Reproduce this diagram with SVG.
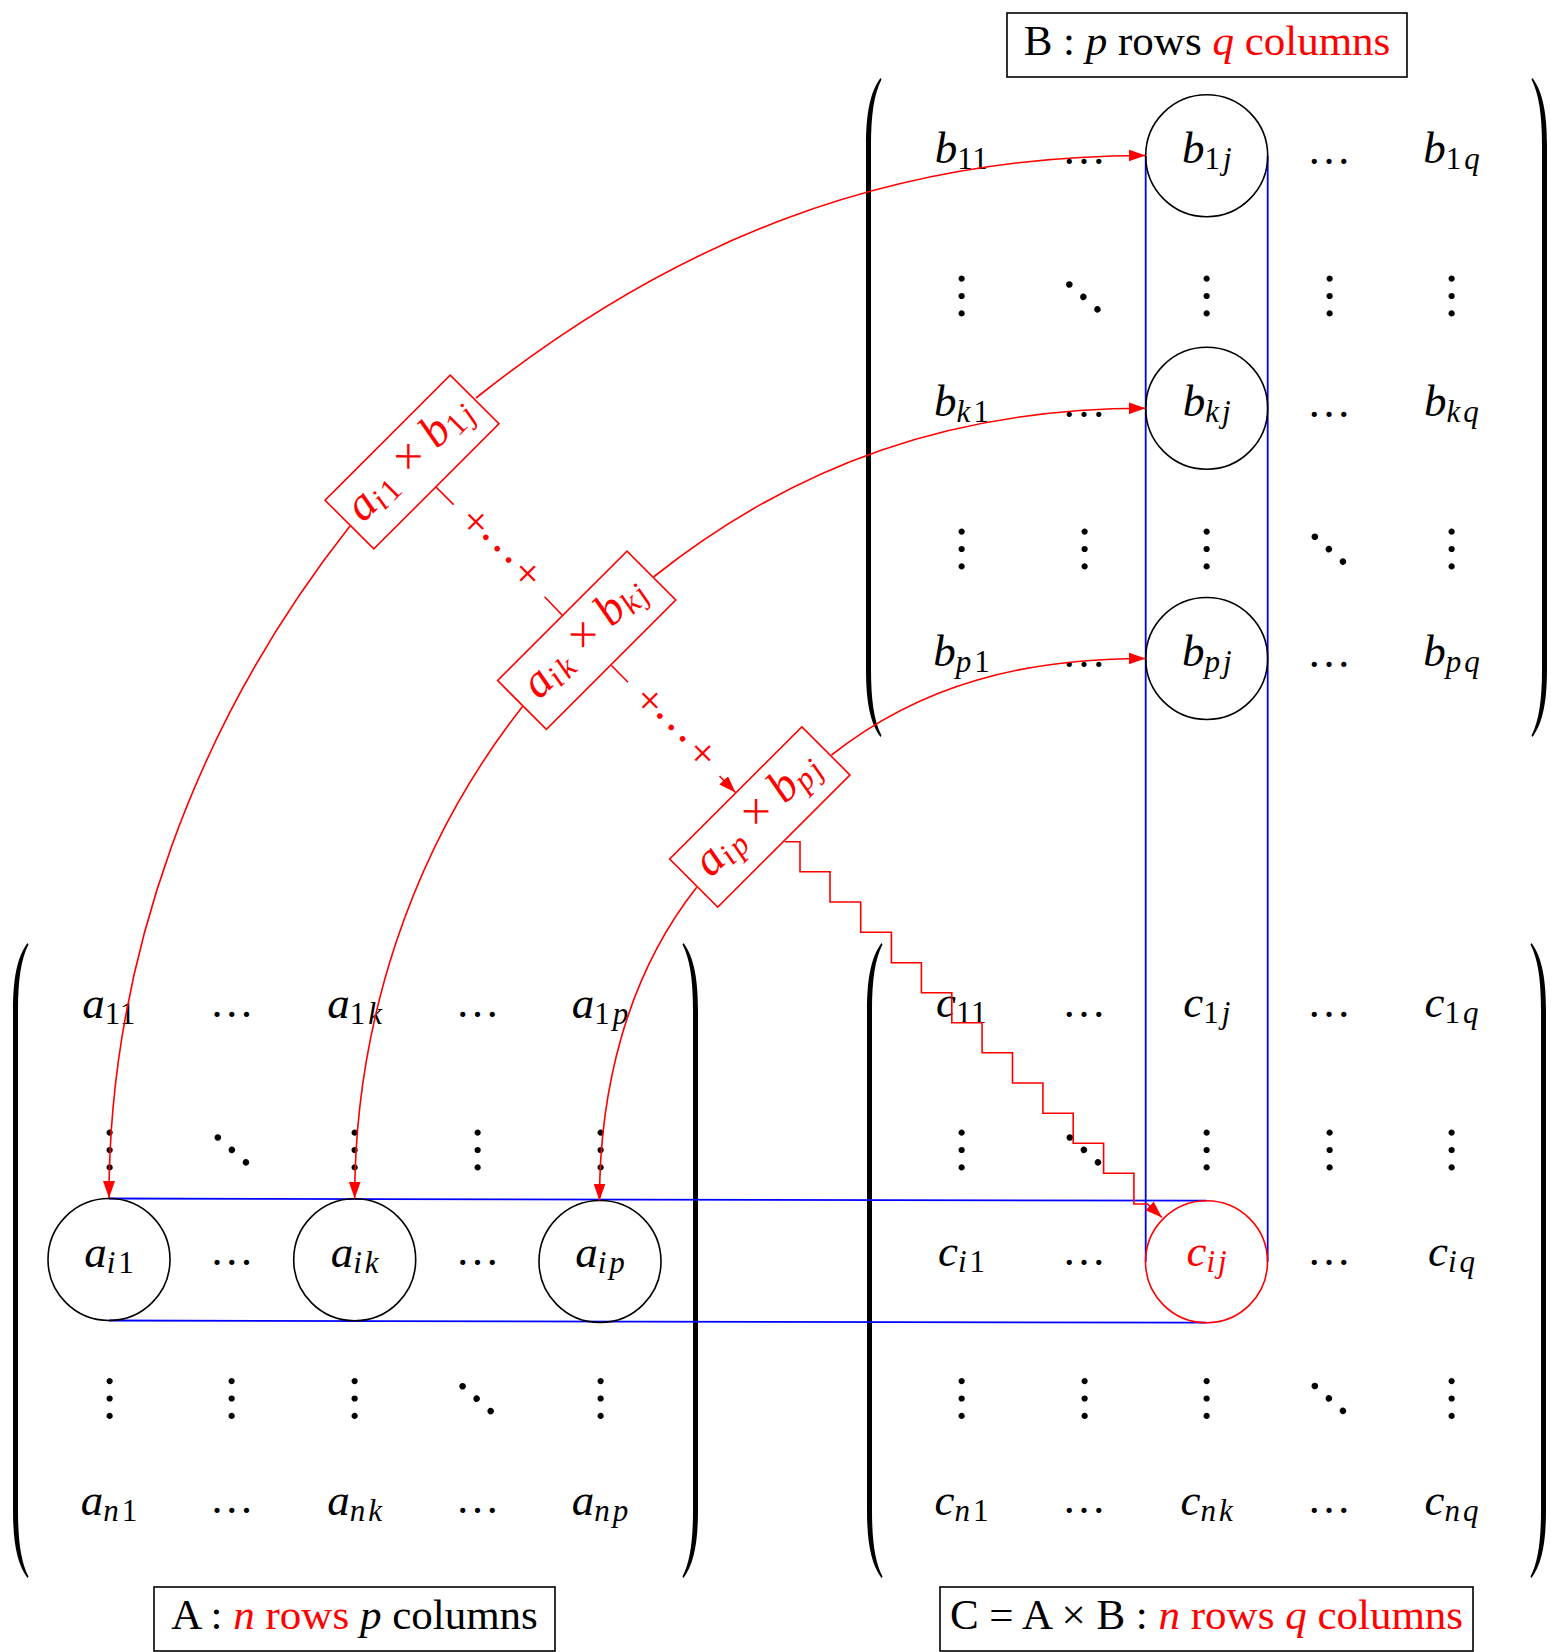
<svg xmlns="http://www.w3.org/2000/svg" width="1551" height="1652" viewBox="0 0 1551 1652">
<defs>
<style>
.t{font-family:"Liberation Serif",serif;font-size:45px;text-anchor:middle;fill:#000}
.r{fill:#ff0000}
.i{font-style:italic}
.s{font-size:31px;letter-spacing:3px}
.n{letter-spacing:0.5px}
.lb{font-family:"Liberation Serif",serif;font-size:43px;text-anchor:middle;fill:#000}
.e{font-family:"Liberation Serif",serif;font-size:44px;text-anchor:middle;fill:#000}
.v{font-family:"Liberation Serif",serif;font-size:52px;text-anchor:middle;fill:#000}
.dd{font-family:"Liberation Serif",serif;font-size:56px;text-anchor:middle;fill:#000}
.pr{fill:#000;stroke:none}
.cir{fill:none;stroke:#000;stroke-width:1.6}
.blue{fill:none;stroke:#0000ff;stroke-width:1.8}
.red{fill:none;stroke:#ff0000;stroke-width:1.6}
.box{fill:#fff;stroke:#ff0000;stroke-width:1.6}
.lbox{fill:none;stroke:#000;stroke-width:1.6}
.pt{font-family:"Liberation Serif",serif;font-size:47px;text-anchor:middle;fill:#ff0000}
.ps{font-size:32px;letter-spacing:3px}
.pl{font-family:"Liberation Serif",serif;font-size:44px;text-anchor:middle;fill:#ff0000}
.pd{font-family:"Liberation Serif",serif;font-size:48px;text-anchor:middle;fill:#ff0000}
</style>
<marker id="ah" markerUnits="userSpaceOnUse" viewBox="0 0 17 12" refX="17" refY="6" markerWidth="17" markerHeight="12" orient="auto">
<path d="M0,0 L17,6 L0,12 Z" fill="#ff0000"/>
</marker>
</defs>
<rect width="1551" height="1652" fill="#fff"/>

<!-- parentheses -->
<g id="parens">
<path class="pr" d="M880.5,78 C870,92 866,114 866,146 L866,669 C866,701 870,723 880.5,737 L881.5,735.5 C874,721 871,700 871,669 L871,146 C871,115 874,94 881.5,79.5 Z"/>
<path class="pr" d="M1532.5,78 C1543,92 1547,114 1547,146 L1547,669 C1547,701 1543,723 1532.5,737 L1531.5,735.5 C1539,721 1542,700 1542,669 L1542,146 C1542,115 1539,94 1531.5,79.5 Z"/>
<path class="pr" d="M27.5,943 C17,957 13,979 13,1011 L13,1510 C13,1542 17,1564 27.5,1578 L28.5,1576.5 C21,1562 18,1541 18,1510 L18,1011 C18,980 21,959 28.5,944.5 Z"/>
<path class="pr" d="M683.5,943 C694,957 698,979 698,1011 L698,1510 C698,1542 694,1564 683.5,1578 L682.5,1576.5 C690,1562 693,1541 693,1510 L693,1011 C693,980 690,959 682.5,944.5 Z"/>
<path class="pr" d="M881.5,943 C871,957 867,979 867,1011 L867,1510 C867,1542 871,1564 881.5,1578 L882.5,1576.5 C875,1562 872,1541 872,1510 L872,1011 C872,980 875,959 882.5,944.5 Z"/>
<path class="pr" d="M1531.5,943 C1542,957 1546,979 1546,1011 L1546,1510 C1546,1542 1542,1564 1531.5,1578 L1530.5,1576.5 C1538,1562 1541,1541 1541,1510 L1541,1011 C1541,980 1538,959 1530.5,944.5 Z"/>
</g>

<!-- blue highlight lines -->
<g id="highlight">
<line class="blue" x1="1145.7" y1="155.8" x2="1145.7" y2="1261.7"/>
<line class="blue" x1="1267.7" y1="155.8" x2="1267.7" y2="1261.7"/>
<line class="blue" x1="109" y1="1198.5" x2="1206.5" y2="1200.7"/>
<line class="blue" x1="109" y1="1320.5" x2="1206.5" y2="1322.7"/>
</g>

<!-- matrix B -->
<g id="matrixB">
<text class="t" x="961.5" y="163"><tspan class="i">b</tspan><tspan class="s n" dy="6">11</tspan></text>
<text class="e" x="1084" y="164">…</text>
<text class="e" x="1329" y="164">…</text>
<text class="t" x="1453" y="163"><tspan class="i">b</tspan><tspan class="s" dy="6">1<tspan class="i">q</tspan></tspan></text>
<text class="v" transform="translate(961.5,296) rotate(90)" y="2.3">…</text>
<text class="dd" transform="translate(1083.5,297) rotate(41.5)" y="2.5">…</text>
<text class="v" transform="translate(1206.7,296) rotate(90)" y="2.3">…</text>
<text class="v" transform="translate(1329,296) rotate(90)" y="2.3">…</text>
<text class="v" transform="translate(1451.5,296) rotate(90)" y="2.3">…</text>
<text class="t" x="963" y="415.5"><tspan class="i">b</tspan><tspan class="s" dy="6"><tspan class="i">k</tspan>1</tspan></text>
<text class="e" x="1084" y="416.5">…</text>
<text class="e" x="1329" y="416.5">…</text>
<text class="t" x="1453" y="415.5"><tspan class="i">b</tspan><tspan class="s i" dy="6">kq</tspan></text>
<text class="v" transform="translate(961.5,549) rotate(90)" y="2.3">…</text>
<text class="v" transform="translate(1084,549) rotate(90)" y="2.3">…</text>
<text class="v" transform="translate(1206.7,549) rotate(90)" y="2.3">…</text>
<text class="dd" transform="translate(1329,549.3) rotate(41.5)" y="2.5">…</text>
<text class="v" transform="translate(1451.5,549) rotate(90)" y="2.3">…</text>
<text class="t" x="963" y="666"><tspan class="i">b</tspan><tspan class="s" dy="6"><tspan class="i">p</tspan>1</tspan></text>
<text class="e" x="1084" y="667">…</text>
<text class="e" x="1329" y="667">…</text>
<text class="t" x="1453" y="666"><tspan class="i">b</tspan><tspan class="s i" dy="6">pq</tspan></text>
</g>
<g id="b1j"><circle class="cir" cx="1206.7" cy="155.8" r="61"/><text class="t" x="1208.2" y="163"><tspan class="i">b</tspan><tspan class="s" dy="6">1<tspan class="i">j</tspan></tspan></text></g>
<g id="bkj"><circle class="cir" cx="1206.7" cy="408.3" r="61"/><text class="t" x="1208.2" y="415.5"><tspan class="i">b</tspan><tspan class="s i" dy="6">kj</tspan></text></g>
<g id="bpj"><circle class="cir" cx="1206.7" cy="658.5" r="61"/><text class="t" x="1208.2" y="666"><tspan class="i">b</tspan><tspan class="s i" dy="6">pj</tspan></text></g>

<!-- matrix A -->
<g id="matrixA">
<text class="t" x="109" y="1018"><tspan class="i">a</tspan><tspan class="s n" dy="6">11</tspan></text>
<text class="e" x="231.8" y="1017">…</text>
<text class="t" x="356.2" y="1018"><tspan class="i">a</tspan><tspan class="s" dy="6">1<tspan class="i">k</tspan></tspan></text>
<text class="e" x="477.5" y="1017">…</text>
<text class="t" x="601.5" y="1018"><tspan class="i">a</tspan><tspan class="s" dy="6">1<tspan class="i">p</tspan></tspan></text>
<text class="v" transform="translate(109,1150) rotate(90)" y="2.3">…</text>
<text class="dd" transform="translate(231.9,1150) rotate(41.5)" y="2.5">…</text>
<text class="v" transform="translate(354.7,1150) rotate(90)" y="2.3">…</text>
<text class="v" transform="translate(477.5,1150) rotate(90)" y="2.3">…</text>
<text class="v" transform="translate(600,1150) rotate(90)" y="2.3">…</text>
<text class="e" x="231.8" y="1265">…</text>
<text class="e" x="477.5" y="1265">…</text>
<text class="v" transform="translate(109,1398.5) rotate(90)" y="2.3">…</text>
<text class="v" transform="translate(231.8,1398.5) rotate(90)" y="2.3">…</text>
<text class="v" transform="translate(354.7,1398.5) rotate(90)" y="2.3">…</text>
<text class="dd" transform="translate(476.6,1398.7) rotate(41.5)" y="2.5">…</text>
<text class="v" transform="translate(600,1398.5) rotate(90)" y="2.3">…</text>
<text class="t" x="110.5" y="1515"><tspan class="i">a</tspan><tspan class="s" dy="6"><tspan class="i">n</tspan>1</tspan></text>
<text class="e" x="231.8" y="1512.5">…</text>
<text class="t" x="356.2" y="1515"><tspan class="i">a</tspan><tspan class="s i" dy="6">nk</tspan></text>
<text class="e" x="477.5" y="1512.5">…</text>
<text class="t" x="601.5" y="1515"><tspan class="i">a</tspan><tspan class="s i" dy="6">np</tspan></text>
</g>
<g id="ai1"><circle class="cir" cx="109" cy="1259.5" r="61"/><text class="t" x="110.5" y="1267"><tspan class="i">a</tspan><tspan class="s" dy="6"><tspan class="i">i</tspan>1</tspan></text></g>
<g id="aik"><circle class="cir" cx="354.7" cy="1259.7" r="61"/><text class="t" x="356.2" y="1267"><tspan class="i">a</tspan><tspan class="s i" dy="6">ik</tspan></text></g>
<g id="aip"><circle class="cir" cx="600" cy="1261.5" r="61"/><text class="t" x="601.5" y="1267"><tspan class="i">a</tspan><tspan class="s i" dy="6">ip</tspan></text></g>

<!-- matrix C -->
<g id="matrixC">
<text class="t" x="961.5" y="1017"><tspan class="i">c</tspan><tspan class="s n" dy="6">11</tspan></text>
<text class="e" x="1084" y="1017">…</text>
<text class="t" x="1208.2" y="1017"><tspan class="i">c</tspan><tspan class="s" dy="6">1<tspan class="i">j</tspan></tspan></text>
<text class="e" x="1329" y="1017">…</text>
<text class="t" x="1453" y="1017"><tspan class="i">c</tspan><tspan class="s" dy="6">1<tspan class="i">q</tspan></tspan></text>
<text class="v" transform="translate(961.5,1150) rotate(90)" y="2.3">…</text>
<text class="dd" transform="translate(1084,1150) rotate(41.5)" y="2.5">…</text>
<text class="v" transform="translate(1206.7,1150) rotate(90)" y="2.3">…</text>
<text class="v" transform="translate(1329,1150) rotate(90)" y="2.3">…</text>
<text class="v" transform="translate(1451.5,1150) rotate(90)" y="2.3">…</text>
<text class="t" x="963" y="1266"><tspan class="i">c</tspan><tspan class="s" dy="6"><tspan class="i">i</tspan>1</tspan></text>
<text class="e" x="1084" y="1265">…</text>
<text class="e" x="1329" y="1265">…</text>
<text class="t" x="1453" y="1266"><tspan class="i">c</tspan><tspan class="s i" dy="6">iq</tspan></text>
<text class="v" transform="translate(961.5,1398.5) rotate(90)" y="2.3">…</text>
<text class="v" transform="translate(1084,1398.5) rotate(90)" y="2.3">…</text>
<text class="v" transform="translate(1206.7,1398.5) rotate(90)" y="2.3">…</text>
<text class="dd" transform="translate(1329,1398.5) rotate(41.5)" y="2.5">…</text>
<text class="v" transform="translate(1451.5,1398.5) rotate(90)" y="2.3">…</text>
<text class="t" x="963" y="1515"><tspan class="i">c</tspan><tspan class="s" dy="6"><tspan class="i">n</tspan>1</tspan></text>
<text class="e" x="1084" y="1512.5">…</text>
<text class="t" x="1208.2" y="1515"><tspan class="i">c</tspan><tspan class="s i" dy="6">nk</tspan></text>
<text class="e" x="1329" y="1512.5">…</text>
<text class="t" x="1453" y="1515"><tspan class="i">c</tspan><tspan class="s i" dy="6">nq</tspan></text>
</g>
<g id="cij"><circle cx="1206.5" cy="1261.7" r="61" fill="none" stroke="#ff0000" stroke-width="1.6"/><text class="t r" x="1208" y="1266"><tspan class="i">c</tspan><tspan class="s i" dy="6">ij</tspan></text></g>

<!-- connectors -->
<g id="connectors">
<path class="red" marker-end="url(#ah)" d="M476,398 C672.1,242 884.9,155.5 1145.5,155.5"/>
<path class="red" marker-end="url(#ah)" d="M653.5,577 C796.8,463 955.1,408.3 1145.5,408.3"/>
<path class="red" marker-end="url(#ah)" d="M831.5,755 C922,683.5 1025,658.5 1145.5,658.5"/>
<path class="red" marker-end="url(#ah)" d="M350,526 C194.6,723 109,962 109,1198"/>
<path class="red" marker-end="url(#ah)" d="M523,706 C409.7,849.7 354.7,1026.4 354.7,1198.5"/>
<path class="red" marker-end="url(#ah)" d="M696.7,887.3 C625.2,978 599.5,1092.5 599.5,1200.5"/>
<path class="red" d="M435.7,486.8 L453.6,504.6 M544.6,596.8 L562.3,615.3"/>
<g transform="translate(499.1,550.2) rotate(45)"><text y="11"><tspan class="pl" x="-36.6">+</tspan><tspan class="pd" x="-2.5" y="2.4">…</tspan><tspan class="pl" x="36.6" y="11">+</tspan></text></g>
<path class="red" d="M611.5,665.5 L628,682.2"/>
<path class="red" marker-end="url(#ah)" d="M719.5,776 L735.5,792.5"/>
<g transform="translate(673.6,729.4) rotate(45)"><text y="11"><tspan class="pl" x="-37.3">+</tspan><tspan class="pd" x="-3" y="2.4">…</tspan><tspan class="pl" x="37.3" y="11">+</tspan></text></g>
<path class="red" marker-end="url(#ah)" d="M785,841.7 H800 V871.7 H830 V902 H860.7 V932.3 H891.4 V962.7 H921.4 V992.7 H951.8 V1022.7 H982.1 V1052.7 H1012.5 V1083 H1042.9 V1113.3 H1073.2 V1143.3 H1103.6 V1173.3 H1133.9 V1204 H1147.5 L1162,1217.5"/>
</g>

<!-- product nodes -->
<g id="p1" transform="translate(412,462) rotate(-45)"><rect class="box" x="-88.5" y="-34.5" width="177" height="69"/><text class="pt" x="1.5" y="9"><tspan class="i">a</tspan><tspan class="ps" dy="6"><tspan class="i">i</tspan>1</tspan><tspan dy="-6"> × </tspan><tspan class="i">b</tspan><tspan class="ps" dy="6">1<tspan class="i">j</tspan></tspan></text></g>
<g id="p2" transform="translate(586.7,640.3) rotate(-45)"><rect class="box" x="-91.5" y="-34.5" width="183" height="69"/><text class="pt" x="1.5" y="9"><tspan class="i">a</tspan><tspan class="ps i" dy="6">ik</tspan><tspan dy="-6"> × </tspan><tspan class="i">b</tspan><tspan class="ps i" dy="6">kj</tspan></text></g>
<g id="p3" transform="translate(759.8,817) rotate(-45)"><rect class="box" x="-93.5" y="-34" width="187" height="68"/><text class="pt" x="1.5" y="9"><tspan class="i">a</tspan><tspan class="ps i" dy="6">ip</tspan><tspan dy="-6"> × </tspan><tspan class="i">b</tspan><tspan class="ps i" dy="6">pj</tspan></text></g>

<!-- labels -->
<g id="labelB"><rect class="lbox" x="1007" y="13" width="400" height="64"/><text class="lb" x="1207" y="55">B : <tspan class="i">p</tspan> rows <tspan class="r"><tspan class="i">q</tspan> columns</tspan></text></g>
<g id="labelA"><rect class="lbox" x="154" y="1587" width="401" height="64"/><text class="lb" x="354.5" y="1629">A : <tspan class="r"><tspan class="i">n</tspan> rows</tspan> <tspan class="i">p</tspan> columns</text></g>
<g id="labelC"><rect class="lbox" x="940" y="1587" width="533" height="64"/><text class="lb" x="1206.5" y="1629">C = A × B : <tspan class="r"><tspan class="i">n</tspan> rows <tspan class="i">q</tspan> columns</tspan></text></g>
</svg>
